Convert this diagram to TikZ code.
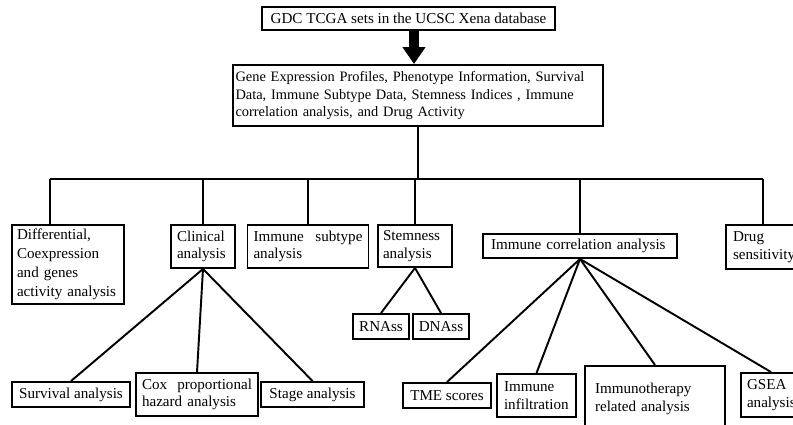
\documentclass[tikz,border=0pt]{standalone}
\usepackage{fontspec}
\setmainfont{Liberation Serif}
\usetikzlibrary{arrows.meta}
\tikzset{
  box/.style={draw, line width=1.1pt, align=left, inner ysep=0pt,
    font=\fontsize{8.6}{9.9}\selectfont},
  cbox/.style={box, align=center, inner xsep=0pt},
  link/.style={line width=1.1pt},
  bigarrow/.style={line width=0.2cm, -{Triangle[width=0.44cm,length=0.34cm]}}
}
\begin{document}
\begin{tikzpicture}[x=0.02cm, y=-0.02cm]
\useasboundingbox (0,0) rectangle (793,425);
\clip (0,0) rectangle (793,425);
\node[cbox, minimum width=5.86cm, minimum height=0.46cm] (src) at (408.5,18.5) {GDC TCGA sets in the UCSC Xena database};
\node[box, inner xsep=0.05cm, text width=7.3cm, minimum height=1.22cm,
  font=\fontsize{8.2}{9.9}\selectfont, execute at begin node={\hyphenpenalty=10000}] (data) at (418,95.5)
  {Gene Expression Profiles, Phenotype Information, Survival\\Data, Immune Subtype Data, Stemness Indices , Immune\\correlation analysis, and Drug Activity};
\draw[bigarrow] ([xshift=0.11cm]src.south) -- ([xshift=0.11cm]src.south |- data.north);
\node[box, inner xsep=0.1cm, text width=2.04cm, minimum height=1.58cm,
  font=\fontsize{8.6}{10.9}\selectfont] (diff) at (68,264.5)
  {Differential,\\Coexpression\\and genes\\activity analysis};
\node[box, inner xsep=0.12cm, text width=1.04cm, minimum height=0.86cm] (clin) at (203,246.5) {Clinical\\analysis};
\node[box, inner xsep=0.12cm, text width=2.18cm, minimum height=0.86cm] (subt) at (308,246.5) {Immune\hfill subtype\\analysis};
\node[box, inner xsep=0.1cm, text width=1.28cm, minimum height=0.84cm] (stem) at (415,246) {Stemness\\analysis};
\node[box, inner xsep=0.16cm, text width=3.56cm, minimum height=0.48cm] (immc) at (580,246) {Immune correlation analysis};
\node[box, inner xsep=0.14cm, text width=1.2cm, minimum height=0.88cm] (drug) at (763,247) {Drug\\sensitivity};
\node[cbox, minimum width=2.36cm, minimum height=0.5cm] (surv) at (71,394.5) {Survival analysis};
\node[box, inner xsep=0.12cm, text width=2.2cm, minimum height=0.86cm] (cox) at (197,394.5) {Cox\hfill proportional\\hazard analysis};
\node[cbox, minimum width=2.06cm, minimum height=0.5cm] (stage) at (312.5,394.5) {Stage analysis};
\node[cbox, minimum width=1.12cm, minimum height=0.5cm] (rnass) at (381,326.5) {RNAss};
\node[cbox, minimum width=1.12cm, minimum height=0.5cm] (dnass) at (441,326.5) {DNAss};
\node[cbox, minimum width=1.76cm, minimum height=0.5cm] (tme) at (447,395.5) {TME scores};
\node[box, inner xsep=0.14cm, text width=1.3cm, minimum height=0.86cm] (infil) at (536.5,395.5) {Immune\\infiltration};
\node[box, anchor=north, inner xsep=0.2cm, text width=2.4cm, minimum height=1.6cm] (immt) at (655,365)
  {Immunotherapy\\related analysis\\\mbox{}};
\node[box, inner xsep=0.12cm, text width=0.96cm, minimum height=0.88cm] (gsea) at (771,395) {GSEA\\analysis};
\coordinate (busL) at (50,179);
\coordinate (busR) at (763,179);
\draw[link] (data.south) -- (data.south |- busL);
\draw[link] (busL) -- (busR);
\draw[link] (busL) -- (busL |- diff.north);
\draw[link] (clin.north |- busL) -- (clin.north);
\draw[link] (subt.north |- busL) -- (subt.north);
\draw[link] (stem.north |- busL) -- (stem.north);
\draw[link] (immc.north |- busL) -- (immc.north);
\draw[link] (busR) -- (drug.north);
\draw[link] (clin.south) -- (surv.north);
\draw[link] (clin.south) -- (cox.north);
\draw[link] (clin.south) -- (stage.north);
\draw[link] (stem.south) -- (rnass.north);
\draw[link] (stem.south) -- (dnass.north);
\draw[link] (immc.south) -- (tme.north);
\draw[link] (immc.south) -- (infil.north);
\draw[link] (immc.south) -- (immt.north);
\draw[link] (immc.south) -- (gsea.north);
\end{tikzpicture}
\end{document}
